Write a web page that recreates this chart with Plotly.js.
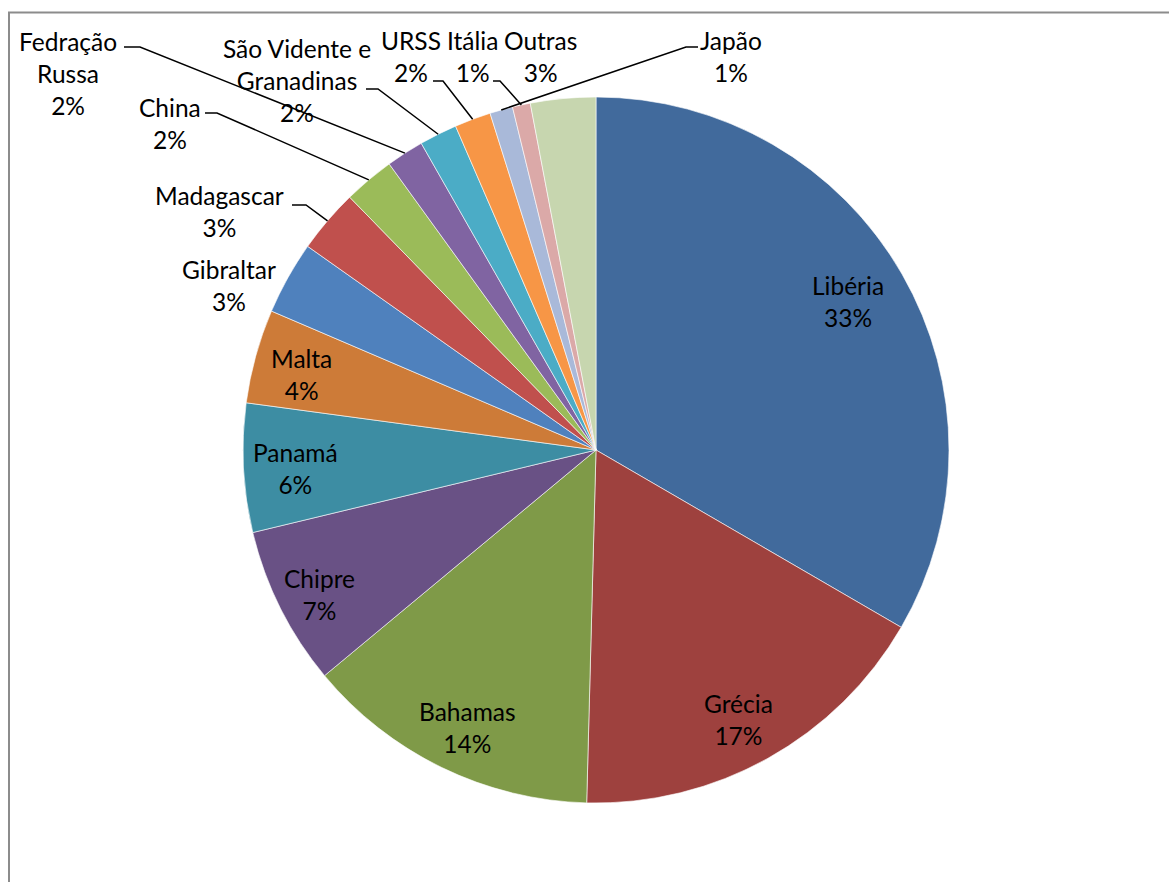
<!DOCTYPE html>
<html>
<head>
<meta charset="utf-8">
<script src="https://cdn.plot.ly/plotly-3.0.1.min.js"></script>
<style>html,body{margin:0;padding:0;background:#fff;}#chart{width:1169px;height:882px;}</style>
</head>
<body>
<div id="chart"></div>
<script>
// ---- data ----
const categories = ['Libéria','Grécia','Bahamas','Chipre','Panamá','Malta','Gibraltar','Madagascar','China','Fedração Russa','São Vidente e Granadinas','URSS','Japão','Itália','Outras'];
const displayLabels = ['Libéria','Grécia','Bahamas','Chipre','Panamá','Malta','Gibraltar','Madagascar','China','Fedração<br>Russa','São Vidente e<br>Granadinas','URSS','Japão','Itália','Outras'];
const shares = [33.37,17.04,13.54,7.28,5.89,4.30,3.35,2.92,2.33,1.72,1.73,1.66,1.05,0.82,2.98];

// ---- styles ----
const colors = ['#416A9C','#9E413E','#7F9A48','#695185','#3D8DA3','#CD7B38','#4F81BD','#C0504D','#9BBB59','#8064A2','#4BACC6','#F79646','#A9B9D9','#DBA9A8','#C7D6AF'];
// label centre positions (px)
const labelPos = [[848,301],[738,719],[467,727],[319,594],[295,468],[301,375],[229,285],[219,212],[170,123],[68,73],[297,81],[411,57],[731,57],[472,57],[540,57]];
// leader stubs: [x start, x end, y] in px, null = no leader line
const stubs = [null,null,null,null,null,null,null,[292,306,205],[205,217,113],[124,140,47],[366,378,89],[433,443,81],[698,686,47],[493,500,81],null];

const W = 1169, H = 882;
const cx = 596, cy = 450, R = 353;
const dom = {x:[(cx-R)/W,(cx+R)/W], y:[(H-cy-R)/H,(H-cy+R)/H]};
const px = x => x/W, py = y => 1 - y/H;

const total = shares.reduce((a,b)=>a+b,0);
const annotations = [];
const shapes = [];
let cum = 0;
shares.forEach((v,i)=>{
  const mid = (cum + v/2)/total*2*Math.PI; // clockwise from 12 o'clock
  cum += v;
  const pct = Math.round(v/total*100)+'%';
  annotations.push({
    x: px(labelPos[i][0]), y: py(labelPos[i][1]), xref:'paper', yref:'paper',
    xanchor:'center', yanchor:'middle', showarrow:false, align:'center',
    text: displayLabels[i]+'<br>'+pct,
    font:{family:'Lato, Carlito, Calibri, sans-serif', size:24.5, color:'#000'}
  });
  if (stubs[i]) {
    const ex = cx + R*Math.sin(mid), ey = cy - R*Math.cos(mid);
    const s = stubs[i];
    shapes.push({type:'path', xref:'paper', yref:'paper',
      path:`M ${px(s[0])} ${py(s[2])} L ${px(s[1])} ${py(s[2])} L ${px(ex)} ${py(ey)}`,
      line:{color:'#000', width:1.5}});
  }
});
// chart-area border
shapes.push({type:'path', xref:'paper', yref:'paper',
  path:`M ${px(9)} -0.05 L ${px(9)} ${py(12.5)} L 1.05 ${py(12.5)}`,
  line:{color:'#8c8c8c', width:2}});

const trace = {
  type:'pie', labels:categories, values:shares, sort:false,
  direction:'clockwise', rotation:0, textinfo:'none', hoverinfo:'label+percent',
  marker:{colors:colors, line:{color:'#ffffff', width:0.6}},
  domain:dom, showlegend:false
};
const layout = {
  width:W, height:H, margin:{l:0,r:0,t:0,b:0},
  paper_bgcolor:'#fff', plot_bgcolor:'#fff',
  showlegend:false, annotations:annotations, shapes:shapes
};
Plotly.newPlot('chart',[trace],layout,{displayModeBar:false,staticPlot:true});
</script>
</body>
</html>
